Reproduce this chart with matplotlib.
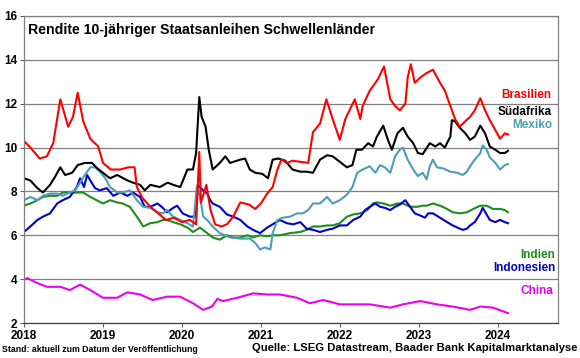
import matplotlib
matplotlib.use("Agg")
import matplotlib.pyplot as plt

plt.rcParams['font.family'] = ['Liberation Sans', 'DejaVu Sans']

# ---- data (x in decimal years) ----
bra_x = [2018.00, 2018.08, 2018.20, 2018.29, 2018.37, 2018.46, 2018.56, 2018.62, 2018.68, 2018.75,
         2018.84, 2018.94, 2019.00, 2019.10, 2019.22, 2019.32, 2019.40, 2019.43, 2019.50, 2019.60,
         2019.70, 2019.80, 2019.90, 2020.00, 2020.10, 2020.18, 2020.22, 2020.24, 2020.31, 2020.36,
         2020.42, 2020.50, 2020.57, 2020.65, 2020.74, 2020.85, 2020.93, 2021.00, 2021.08, 2021.15,
         2021.21, 2021.26, 2021.33, 2021.40, 2021.50, 2021.60, 2021.66, 2021.75, 2021.83, 2021.91,
         2022.00, 2022.07, 2022.19, 2022.26, 2022.29, 2022.38, 2022.48, 2022.56, 2022.64, 2022.70,
         2022.76, 2022.83, 2022.86, 2022.90, 2022.95, 2023.02, 2023.10, 2023.18, 2023.27, 2023.33,
         2023.40, 2023.46, 2023.52, 2023.59, 2023.65, 2023.71, 2023.78, 2023.84, 2023.90, 2023.97,
         2024.03, 2024.09, 2024.13]
bra_y = [10.3, 10.0, 9.5, 9.6, 10.2, 12.2, 10.95, 11.4, 12.5, 11.2,
         10.4, 10.05, 9.3, 9.0, 9.0, 9.1, 9.1, 8.2, 7.7, 7.3,
         7.0, 6.7, 6.8, 6.6, 6.7, 6.5, 9.8, 7.5, 8.3, 7.2,
         6.5, 6.4, 6.5, 6.85, 7.5, 7.4, 7.2, 7.45, 7.9, 8.2,
         9.0, 9.45, 9.3, 9.4, 9.35, 9.3, 10.7, 11.1, 12.2, 11.3,
         10.35, 11.3, 12.2, 11.3, 11.9, 12.6, 13.1, 13.7, 12.2, 11.9,
         11.7, 12.0, 13.2, 13.8, 12.95, 13.2, 13.4, 13.55, 12.95, 12.6,
         11.9, 11.3, 10.95, 11.2, 11.4, 11.7, 12.25, 11.7, 11.25, 10.8,
         10.4, 10.65, 10.6]

zaf_x = [2018.00, 2018.08, 2018.17, 2018.24, 2018.33, 2018.39, 2018.46, 2018.52, 2018.61, 2018.68,
         2018.77, 2018.86, 2018.93, 2019.00, 2019.09, 2019.18, 2019.31, 2019.38, 2019.47, 2019.53,
         2019.60, 2019.72, 2019.82, 2019.89, 2019.98, 2020.07, 2020.14, 2020.18, 2020.22, 2020.25,
         2020.30, 2020.34, 2020.39, 2020.48, 2020.55, 2020.61, 2020.74, 2020.80, 2020.86, 2020.93,
         2021.02, 2021.09, 2021.15, 2021.22, 2021.31, 2021.40, 2021.50, 2021.58, 2021.66, 2021.75,
         2021.84, 2021.91, 2022.00, 2022.09, 2022.16, 2022.21, 2022.28, 2022.36, 2022.42, 2022.47,
         2022.55, 2022.61, 2022.66, 2022.73, 2022.80, 2022.86, 2022.93, 2022.99, 2023.05, 2023.14,
         2023.21, 2023.27, 2023.33, 2023.40, 2023.42, 2023.46, 2023.52, 2023.59, 2023.65, 2023.71,
         2023.78, 2023.84, 2023.90, 2023.97, 2024.03, 2024.09, 2024.13]
zaf_y = [8.6, 8.5, 8.15, 7.95, 8.3, 8.65, 9.1, 8.75, 8.85, 9.2,
         9.3, 9.3, 9.05, 8.85, 8.6, 8.75, 8.5, 8.4, 8.3, 8.05,
         8.3, 8.2, 8.4, 8.3, 8.2, 9.0, 9.0, 9.75, 12.3, 11.4,
         10.95, 9.9, 9.0, 9.3, 9.6, 9.3, 9.45, 9.5, 9.0, 8.85,
         8.8, 8.6, 9.45, 9.5, 9.4, 9.0, 8.9, 8.9, 8.85, 9.45,
         9.65, 9.6, 9.35, 9.1, 9.2, 9.9, 9.9, 10.2, 10.05, 10.5,
         11.0, 10.35, 9.9, 10.65, 10.9, 10.5, 10.2, 9.75, 9.7, 10.2,
         10.05, 10.2, 10.0, 10.5, 11.25, 11.2, 10.9, 10.65, 10.35, 10.5,
         11.0, 10.65, 10.05, 9.9, 9.75, 9.75, 9.85]

mex_x = [2018.00, 2018.08, 2018.17, 2018.24, 2018.33, 2018.42, 2018.49, 2018.58, 2018.65, 2018.71,
         2018.77, 2018.84, 2018.90, 2018.96, 2019.03, 2019.09, 2019.18, 2019.25, 2019.34, 2019.43,
         2019.51, 2019.60, 2019.69, 2019.76, 2019.81, 2019.89, 2019.98, 2020.07, 2020.14, 2020.19,
         2020.23, 2020.27, 2020.32, 2020.39, 2020.48, 2020.61, 2020.74, 2020.86, 2020.93, 2020.99,
         2021.05, 2021.12, 2021.15, 2021.21, 2021.28, 2021.37, 2021.46, 2021.53, 2021.60, 2021.66,
         2021.75, 2021.84, 2021.91, 2022.00, 2022.09, 2022.16, 2022.22, 2022.29, 2022.38, 2022.45,
         2022.51, 2022.57, 2022.64, 2022.70, 2022.76, 2022.80, 2022.86, 2022.93, 2022.99, 2023.05,
         2023.10, 2023.14, 2023.18, 2023.23, 2023.31, 2023.40, 2023.49, 2023.56, 2023.61, 2023.65,
         2023.71, 2023.78, 2023.81, 2023.86, 2023.90, 2023.97, 2024.03, 2024.09, 2024.13]
mex_y = [7.6, 7.75, 7.6, 7.8, 7.9, 7.9, 7.8, 7.95, 8.05, 8.4,
         8.75, 9.1, 9.1, 8.9, 8.6, 8.2, 7.95, 7.95, 8.05, 7.6,
         7.3, 7.25, 7.05, 7.0, 7.15, 6.85, 6.7, 6.55, 6.4, 8.2,
         7.75, 6.85, 6.7, 6.4, 6.1, 5.9, 5.85, 5.85, 5.65, 5.35,
         5.45, 5.35, 6.1, 6.7, 6.8, 6.85, 7.0, 7.0, 7.15, 7.45,
         7.45, 7.75, 7.45, 7.6, 7.85, 8.2, 8.85, 9.0, 9.15, 8.85,
         9.2, 9.1, 8.85, 9.6, 9.9, 10.0, 9.45, 9.0, 8.7, 8.85,
         8.55, 9.15, 9.45, 9.1, 9.05, 8.9, 8.85, 8.75, 8.9, 9.15,
         9.45, 9.75, 10.1, 9.9, 9.55, 9.3, 9.0, 9.2, 9.25]

idn_x = [2018.00, 2018.08, 2018.17, 2018.24, 2018.33, 2018.42, 2018.49, 2018.58, 2018.67, 2018.71,
         2018.76, 2018.80, 2018.84, 2018.90, 2018.96, 2019.05, 2019.13, 2019.22, 2019.31, 2019.38,
         2019.47, 2019.53, 2019.60, 2019.69, 2019.76, 2019.81, 2019.89, 2019.94, 2020.01, 2020.10,
         2020.17, 2020.20, 2020.27, 2020.32, 2020.36, 2020.39, 2020.48, 2020.57, 2020.65, 2020.74,
         2020.83, 2020.90, 2020.99, 2021.08, 2021.15, 2021.24, 2021.33, 2021.41, 2021.50, 2021.58,
         2021.66, 2021.75, 2021.84, 2021.91, 2022.00, 2022.09, 2022.17, 2022.26, 2022.32, 2022.38,
         2022.45, 2022.51, 2022.57, 2022.64, 2022.70, 2022.76, 2022.83, 2022.89, 2022.95, 2023.02,
         2023.08, 2023.12, 2023.18, 2023.27, 2023.36, 2023.43, 2023.52, 2023.56, 2023.61, 2023.65,
         2023.71, 2023.78, 2023.81, 2023.86, 2023.90, 2023.97, 2024.03, 2024.09, 2024.13]
idn_y = [6.15, 6.4, 6.7, 6.85, 7.0, 7.45, 7.6, 7.75, 8.2, 8.6,
         8.2, 8.75, 8.5, 8.15, 8.05, 8.15, 7.8, 7.95, 7.8, 7.95,
         7.75, 7.3, 7.3, 7.45, 7.25, 7.05, 7.25, 7.35, 7.0, 6.85,
         6.85, 8.3, 8.05, 7.9, 7.6, 7.45, 7.3, 6.95, 6.85, 6.7,
         6.4, 6.25, 6.1, 6.35, 6.5, 6.7, 6.55, 6.5, 6.6, 6.3,
         6.25, 6.15, 6.25, 6.3, 6.45, 6.45, 6.7, 6.85, 7.15, 7.3,
         7.45, 7.3, 7.25, 7.15, 7.3, 7.4, 7.6, 7.3, 7.0, 6.9,
         6.8, 7.0, 7.0, 6.8, 6.6, 6.45, 6.3, 6.25, 6.3, 6.45,
         6.6, 7.0, 7.25, 6.95, 6.7, 6.6, 6.7, 6.6, 6.55]

ind_x = [2018.00, 2018.08, 2018.17, 2018.24, 2018.33, 2018.42, 2018.49, 2018.58, 2018.67, 2018.75,
         2018.84, 2018.92, 2019.00, 2019.09, 2019.18, 2019.25, 2019.34, 2019.43, 2019.51, 2019.60,
         2019.69, 2019.76, 2019.81, 2019.89, 2019.98, 2020.07, 2020.14, 2020.23, 2020.32, 2020.39,
         2020.48, 2020.57, 2020.65, 2020.74, 2020.83, 2020.90, 2020.99, 2021.08, 2021.15, 2021.24,
         2021.37, 2021.50, 2021.58, 2021.66, 2021.75, 2021.84, 2021.91, 2022.00, 2022.09, 2022.17,
         2022.26, 2022.35, 2022.42, 2022.47, 2022.55, 2022.64, 2022.73, 2022.80, 2022.89, 2022.98,
         2023.05, 2023.10, 2023.18, 2023.27, 2023.36, 2023.43, 2023.52, 2023.61, 2023.69, 2023.78,
         2023.86, 2023.94, 2024.03, 2024.09, 2024.13]
ind_y = [7.35, 7.45, 7.6, 7.75, 7.8, 7.8, 7.95, 7.95, 7.95, 7.95,
         7.75, 7.6, 7.45, 7.6, 7.5, 7.45, 7.3, 6.85, 6.4, 6.55,
         6.6, 6.7, 6.7, 6.6, 6.5, 6.35, 6.15, 6.35, 6.1, 5.9,
         5.8, 6.0, 5.9, 5.9, 6.0, 5.9, 6.0, 5.95, 6.0, 6.0,
         6.1, 6.15, 6.25, 6.4, 6.4, 6.45, 6.45, 6.55, 6.85, 6.95,
         7.0, 7.15, 7.45, 7.5, 7.45, 7.35, 7.45, 7.45, 7.3, 7.3,
         7.35, 7.35, 7.45, 7.35, 7.2, 7.05, 7.0, 7.05, 7.2, 7.35,
         7.35, 7.2, 7.2, 7.15, 7.05]

chn_x = [2018.00, 2018.04, 2018.15, 2018.29, 2018.46, 2018.58, 2018.71, 2018.84, 2019.00, 2019.18,
         2019.31, 2019.47, 2019.63, 2019.81, 2019.98, 2020.14, 2020.27, 2020.38, 2020.45, 2020.52,
         2020.70, 2020.90, 2021.08, 2021.24, 2021.46, 2021.62, 2021.79, 2022.00, 2022.17, 2022.38,
         2022.64, 2022.80, 2023.02, 2023.23, 2023.43, 2023.65, 2023.78, 2023.94, 2024.13]
chn_y = [3.95, 4.05, 3.85, 3.65, 3.65, 3.5, 3.75, 3.5, 3.15, 3.15,
         3.4, 3.3, 3.05, 3.2, 3.2, 2.9, 2.6, 2.75, 3.1, 3.0,
         3.15, 3.35, 3.3, 3.3, 3.15, 2.9, 3.05, 2.85, 2.85, 2.85,
         2.7, 2.85, 3.0, 2.85, 2.75, 2.6, 2.75, 2.7, 2.45]

years = [2018, 2019, 2020, 2021, 2022, 2023, 2024]
y_ticks = [2, 4, 6, 8, 10, 12, 14, 16]

C_BRA = '#ff0000'
C_ZAF = '#000000'
C_MEX = '#4a9fb5'
C_IDN = '#0000cc'
C_IND = '#1e8c1e'
C_CHN = '#ee00ee'

fig = plt.figure(figsize=(5.8, 3.58), dpi=100)
ax = fig.add_axes([24/580, 1-323/358, (558-24)/580, (323-16)/358])

for y in y_ticks:
    ax.axhline(y, color='#808080', lw=0.9, zorder=0)

lw = 1.5
ax.plot(chn_x, chn_y, color=C_CHN, lw=lw)
ax.plot(ind_x, ind_y, color=C_IND, lw=lw)
ax.plot(idn_x, idn_y, color=C_IDN, lw=lw)
ax.plot(mex_x, mex_y, color=C_MEX, lw=lw)
ax.plot(zaf_x, zaf_y, color=C_ZAF, lw=lw)
ax.plot(bra_x, bra_y, color=C_BRA, lw=lw)

ax.set_xlim(2018, 2024.764)
ax.set_ylim(2, 16)
ax.set_xticks(years)
ax.set_xticklabels([str(y) for y in years], fontsize=8.5, fontweight='bold')
ax.set_yticks(y_ticks)
ax.set_yticklabels([str(y) for y in y_ticks], fontsize=8.5, fontweight='bold')
ax.tick_params(axis='both', length=3, width=0.8, color='#606060', pad=2)
for s in ax.spines.values():
    s.set_color('#808080')
    s.set_linewidth(0.9)
ax.spines['bottom'].set_color('#404040')

ax.text(0.008, 0.977, 'Rendite 10-jähriger Staatsanleihen Schwellenländer', transform=ax.transAxes,
        fontsize=10.2, fontweight='bold', ha='left', va='top')

lab_kw = dict(transform=fig.transFigure, fontsize=8.5, fontweight='bold', ha='right', va='center')
fig.text(551/580, 1-95/358, 'Brasilien', color=C_BRA, **lab_kw)
fig.text(552/580, 1-112/358, 'Südafrika', color=C_ZAF, **lab_kw)
fig.text(552/580, 1-125/358, 'Mexiko', color=C_MEX, **lab_kw)
fig.text(555/580, 1-255/358, 'Indien', color=C_IND, **lab_kw)
fig.text(555/580, 1-268/358, 'Indonesien', color=C_IDN, **lab_kw)
fig.text(553/580, 1-291/358, 'China', color=C_CHN, **lab_kw)

fig.text(2/580, 1-349/358, 'Stand: aktuell zum Datum der Veröffentlichung', fontsize=6.3,
         fontweight='bold', ha='left', va='center')
fig.text(577/580, 1-348/358, 'Quelle: LSEG Datastream, Baader Bank Kapitalmarktanalyse', fontsize=8.1,
         fontweight='bold', ha='right', va='center')

fig.savefig('out.png', dpi=100)
